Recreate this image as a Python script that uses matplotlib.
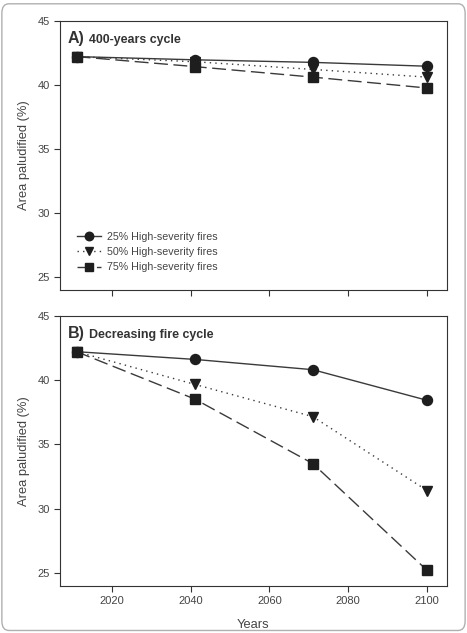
import numpy as np
import matplotlib
matplotlib.use("Agg")
from matplotlib import pyplot as plt
from matplotlib.patches import FancyBboxPatch

plt.rcParams['font.family'] = ['Liberation Sans', 'DejaVu Sans']

years = [2011, 2041, 2071, 2100]

# panel A: 400-years cycle
a_25 = [42.2, 41.95, 41.75, 41.45]
a_50 = [42.2, 41.8, 41.2, 40.6]
a_75 = [42.2, 41.42, 40.6, 39.75]

# panel B: decreasing fire cycle
b_25 = [42.2, 41.6, 40.8, 38.42]
b_50 = [42.2, 39.66, 37.15, 31.4]
b_75 = [42.2, 38.52, 33.5, 25.2]

labels = ["25% High-severity fires", "50% High-severity fires", "75% High-severity fires"]
yticks = [25, 30, 35, 40, 45]
xticks = [2020, 2040, 2060, 2080, 2100]

txt = '#444444'
line_col = '#3a3a3a'
mk_col = '#1e1e1e'


def draw_panel(ax, s25, s50, s75, letter, title, show_x):
    ax.plot(years, s25, color=line_col, lw=1.0, ls='-', marker='o', ms=7.2,
            mfc=mk_col, mec=mk_col, label=labels[0])
    ax.plot(years, s50, color=line_col, lw=1.0, ls=(0, (1, 3)), marker='v', ms=7.2,
            mfc=mk_col, mec=mk_col, label=labels[1])
    ax.plot(years, s75, color=line_col, lw=1.0, ls=(0, (10, 4)), marker='s', ms=6.8,
            mfc=mk_col, mec=mk_col, label=labels[2])
    ax.set_xlim(2006.8, 2105)
    ax.set_ylim(24, 45)
    ax.set_yticks(yticks)
    ax.set_xticks(xticks)
    ax.tick_params(direction='out', length=4, width=0.8, colors='#333333',
                   labelcolor=txt, labelsize=8, top=False, right=False)
    if not show_x:
        ax.tick_params(labelbottom=False)
    for sp in ax.spines.values():
        sp.set_color('#333333')
        sp.set_linewidth(0.8)
    ax.set_ylabel("Area paludified (%)", color=txt, fontsize=9.3, labelpad=5)
    ax.text(0.02, 0.935, letter, transform=ax.transAxes, fontsize=11.5,
            fontweight='bold', color='#333333', va='center', ha='left')
    ax.text(0.075, 0.93, title, transform=ax.transAxes, fontsize=8.9,
            fontweight='bold', color='#333333', va='center', ha='left')


fig = plt.figure(figsize=(4.67, 6.33), dpi=100)

border = FancyBboxPatch((0.004, 0.004), 0.992, 0.99, boxstyle="round,pad=0,rounding_size=0.015",
                        transform=fig.transFigure, fill=False, ec='#b0b0b0', lw=1.0)
fig.patches.append(border)

ax1 = fig.add_axes([0.1285, 0.5419, 0.828, 0.4254])
ax2 = fig.add_axes([0.1285, 0.0747, 0.828, 0.4266])

draw_panel(ax1, a_25, a_50, a_75, "A)", "400-years cycle", False)
draw_panel(ax2, b_25, b_50, b_75, "B)", "Decreasing fire cycle", True)

leg = ax1.legend(loc='lower left', bbox_to_anchor=(0.02, 0.03), frameon=False,
                 fontsize=7.7, handlelength=2.2, handletextpad=0.6, labelspacing=0.5,
                 markerscale=0.85)
for t in leg.get_texts():
    t.set_color(txt)

ax2.set_xlabel("Years", color=txt, fontsize=9.3, labelpad=9)

fig.savefig("out.png", dpi=100)
